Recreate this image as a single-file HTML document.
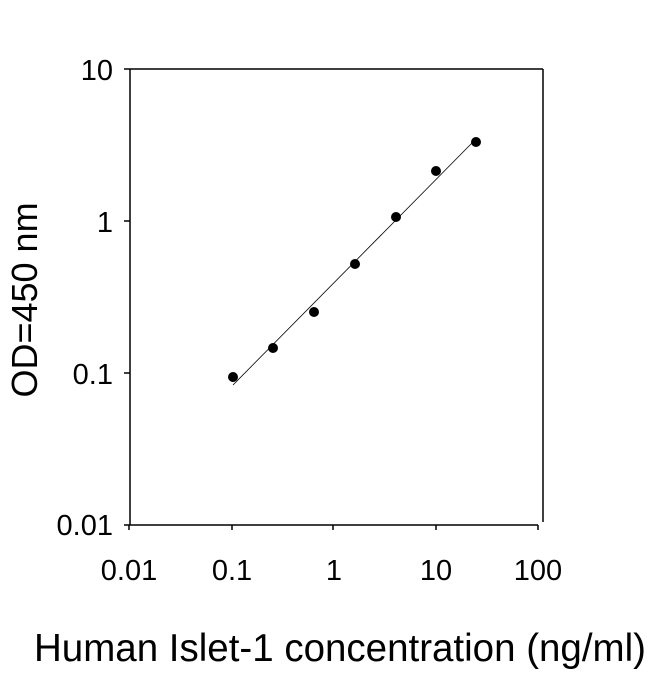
<!DOCTYPE html>
<html><head><meta charset="utf-8"><style>body{margin:0;background:#fff}</style></head><body>
<svg width="650" height="674" xmlns="http://www.w3.org/2000/svg" font-family="Liberation Sans, sans-serif">
<rect width="650" height="674" fill="#fff"/>
<g stroke="#000" stroke-width="1.5" fill="none">
<line x1="124" y1="69" x2="543" y2="69"/>
<line x1="543" y1="69" x2="543" y2="522"/>
<line x1="130" y1="69" x2="130" y2="525"/>
<line x1="124" y1="525" x2="538" y2="525"/>
<line x1="124" y1="221" x2="130" y2="221"/>
<line x1="124" y1="373" x2="130" y2="373"/>
<line x1="129" y1="525" x2="129" y2="530"/>
<line x1="232" y1="525" x2="232" y2="530"/>
<line x1="333" y1="525" x2="333" y2="530"/>
<line x1="436" y1="525" x2="436" y2="530"/>
<line x1="538" y1="525" x2="538" y2="530"/>
</g>
<line x1="233" y1="385" x2="472" y2="143" stroke="#000" stroke-width="0.8"/>
<g fill="#000">
<circle cx="233" cy="377" r="5"/><circle cx="273" cy="348" r="5"/><circle cx="314" cy="312" r="5"/>
<circle cx="355" cy="264" r="5"/><circle cx="396" cy="217" r="5"/><circle cx="436" cy="171" r="5"/>
<circle cx="476" cy="142" r="5"/>
</g>
<g font-size="29" text-anchor="end">
<text x="113" y="80">10</text><text x="113" y="232">1</text><text x="113" y="384">0.1</text><text x="113" y="535">0.01</text>
</g>
<g font-size="29" text-anchor="middle">
<text x="129" y="580">0.01</text><text x="232" y="580">0.1</text><text x="334" y="580">1</text><text x="436" y="580">10</text><text x="538" y="580">100</text>
</g>
<text x="340" y="661" font-size="38.5" text-anchor="middle">Human Islet-1 concentration (ng/ml)</text>
<text transform="translate(37,300) rotate(-90)" font-size="36" text-anchor="middle">OD=450 nm</text>
</svg>
</body></html>
